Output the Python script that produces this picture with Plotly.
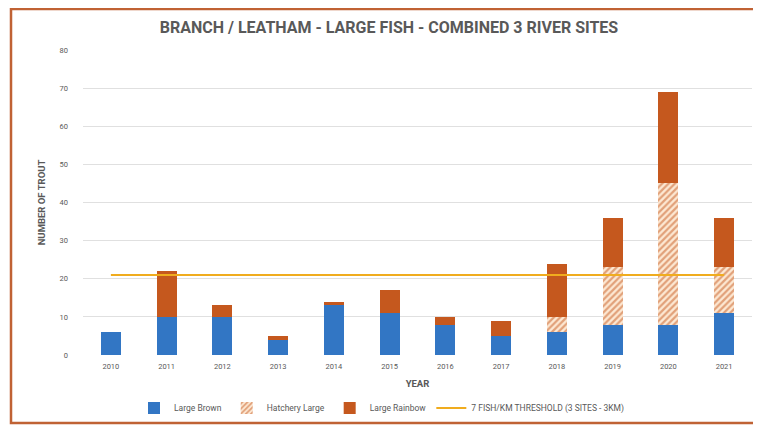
import plotly.graph_objects as go

years = ["2010", "2011", "2012", "2013", "2014", "2015", "2016", "2017", "2018", "2019", "2020", "2021"]
large_brown = [6, 10, 10, 4, 13, 11, 8, 5, 6, 8, 8, 11]
hatchery_large = [0, 0, 0, 0, 0, 0, 0, 0, 4, 15, 37, 12]
large_rainbow = [0, 12, 3, 1, 1, 6, 2, 4, 14, 13, 24, 13]
threshold = [21] * len(years)

BLUE = "rgb(50,118,196)"
ORANGE = "rgb(197,88,30)"
GOLD = "rgb(240,172,30)"
TXT = "#595959"
FONT = "Roboto"

fig = go.Figure()
fig.add_trace(go.Bar(x=years, y=large_brown, name="Large Brown", marker=dict(color=BLUE, line_width=0)))
fig.add_trace(go.Bar(x=years, y=hatchery_large, name="Hatchery Large",
                     marker=dict(color="rgb(250,215,185)", line_width=0,
                                 pattern=dict(shape="/", fgcolor=ORANGE, bgcolor="rgb(253,233,212)",
                                              size=4.5, solidity=0.5))))
fig.add_trace(go.Bar(x=years, y=large_rainbow, name="Large Rainbow", marker=dict(color=ORANGE, line_width=0)))
fig.add_trace(go.Scatter(x=years, y=threshold, mode="lines", name="7 FISH/KM THRESHOLD (3 SITES - 3KM)",
                         line=dict(color=GOLD, width=2)))

# page body has an 8px margin: screen = figure + 8
OFF = 8
W, H = 761 - OFF, 426 - OFF
L = 83 - OFF
T = 50 - OFF
R = W - (752 - OFF)
B = H - (355 - OFF)
pw = W - L - R
ph = H - T - B

def px(x):
    return (x - OFF - L) / pw

def py(y):
    return (H - B - (y - OFF)) / ph

fig.add_shape(type="rect", xref="paper", yref="paper",
              x0=px(11), x1=px(775), y0=py(423), y1=py(9),
              line=dict(color="rgb(192,98,52)", width=2.5), layer="below")

fig.update_layout(
    width=W, height=H,
    margin=dict(l=L, r=R, t=T, b=B, autoexpand=False),
    paper_bgcolor="white", plot_bgcolor="white",
    barmode="stack", bargap=0.64,
    font=dict(family=FONT, color=TXT, size=9),
    title=dict(text="<b>BRANCH / LEATHAM - LARGE FISH - COMBINED 3 RIVER SITES</b>",
               xref="container", x=(389 - OFF) / W, xanchor="center",
               y=1 - (27 - OFF) / H, yanchor="middle",
               font=dict(family=FONT, size=16, color=TXT)),
    showlegend=True,
    legend=dict(orientation="h", x=px(382), xanchor="center", y=py(408), yanchor="middle",
                font=dict(size=8.5, color=TXT), traceorder="normal", itemwidth=30,
                bgcolor="rgba(0,0,0,0)"),
    xaxis=dict(type="category", showgrid=False, showline=False, ticks="", automargin=False,
               tickfont=dict(size=7.5, color=TXT, family=FONT), ticklabelstandoff=5,
               title=dict(text="<b>YEAR</b>", font=dict(size=9.5, color=TXT), standoff=10)),
    yaxis=dict(range=[0, 80], dtick=10, showgrid=True, gridcolor="#e0e0e0", gridwidth=1,
               zeroline=False, showline=False, ticks="", automargin=False,
               tickfont=dict(size=7.5, color=TXT, family=FONT), ticklabelstandoff=14,
               title=dict(text="<b>NUMBER OF TROUT</b>", font=dict(size=9.5, color=TXT), standoff=12)),
)

fig.write_html("out.html")
